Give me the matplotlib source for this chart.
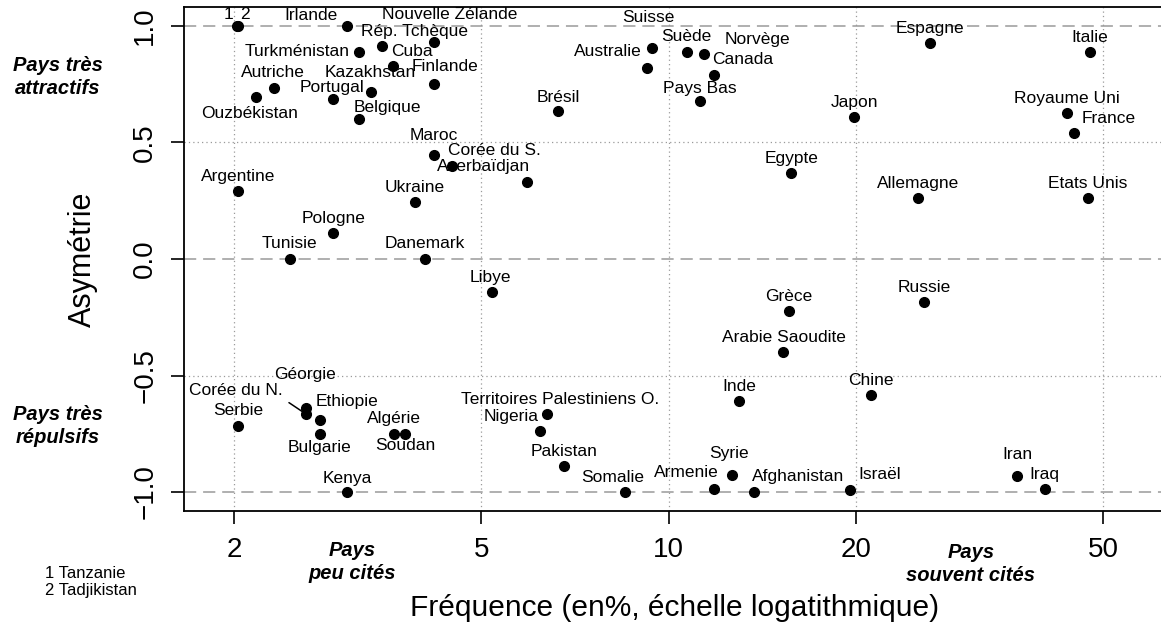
import matplotlib
matplotlib.use("Agg")
import matplotlib.pyplot as plt

plt.rcParams['font.family'] = ['Liberation Sans', 'DejaVu Sans']

# data
countries = ["Tanzanie", "Tadjikistan", "Irlande", "Nouvelle Zélande", "Rép. Tchèque",
             "Cuba", "Turkménistan", "Kazakhstan", "Finlande", "Autriche", "Ouzbékistan",
             "Portugal", "Belgique", "Maroc", "Corée du S.", "Argentine", "Ukraine",
             "Pologne", "Tunisie", "Danemark", "Suisse", "Australie", "Suède", "Norvège",
             "Canada", "Pays Bas", "Brésil", "Azerbaïdjan", "Egypte", "Espagne", "Italie",
             "Japon", "Royaume Uni", "France", "Allemagne", "Etats Unis", "Libye",
             "Géorgie", "Corée du N.", "Ethiopie", "Serbie", "Bulgarie", "Algérie",
             "Soudan", "Kenya", "Territoires Palestiniens O.", "Nigeria", "Grèce",
             "Arabie Saoudite", "Inde", "Pakistan", "Somalie", "Armenie", "Syrie",
             "Afghanistan", "Russie", "Chine", "Israël", "Iran", "Iraq"]
frequency = [2.02, 2.03, 3.04, 4.20, 3.46,
             3.60, 3.18, 3.32, 4.20, 2.32, 2.17,
             2.89, 3.18, 4.20, 4.48, 2.03, 3.91,
             2.89, 2.46, 4.06, 9.41, 9.24, 10.71, 11.41,
             11.84, 11.24, 6.64, 5.92, 15.75, 26.3, 47.7,
             19.9, 43.8, 44.9, 25.2, 47.3, 5.20,
             2.61, 2.61, 2.75, 2.03, 2.75, 3.62,
             3.77, 3.04, 6.38, 6.21, 15.6,
             15.3, 13.0, 6.79, 8.51, 11.84, 12.66,
             13.73, 25.8, 21.2, 19.6, 36.4, 40.3]
asymmetry = [1.0, 1.0, 1.0, 0.93, 0.915,
             0.83, 0.89, 0.715, 0.75, 0.735, 0.695,
             0.685, 0.60, 0.445, 0.40, 0.29, 0.245,
             0.11, 0.0, 0.0, 0.905, 0.82, 0.89, 0.88,
             0.79, 0.68, 0.635, 0.33, 0.37, 0.925, 0.89,
             0.61, 0.625, 0.54, 0.26, 0.26, -0.14,
             -0.64, -0.665, -0.69, -0.715, -0.75, -0.75,
             -0.75, -1.0, -0.665, -0.74, -0.225,
             -0.40, -0.61, -0.89, -1.0, -0.985, -0.925,
             -1.0, -0.185, -0.585, -0.99, -0.93, -0.985]
short_names = {"Tanzanie": "1", "Tadjikistan": "2"}
footnote = ["1 Tanzanie", "2 Tadjikistan"]

xticks = [2, 5, 10, 20, 50]
yticks = [-1.0, -0.5, 0.0, 0.5, 1.0]
ytick_labels = ["\u22121.0", "\u22120.5", "0.0", "0.5", "1.0"]

# label offsets from each point, in pixels (x right, y up)
label_dx = [-8, 7, -36, 15, 33,
            19, -62, -1, 11, -1, -6,
            -1, 28, 0, 43, 0, 0,
            0, 0, 0, -4, -39, -1, 53,
            29, 0, 0, -43, 0, 0, -1,
            0, 0, 35, 0, 0, -2,
            -1, -70, 27, 0, 0, 0,
            0, 0, 13, -29, 0,
            1, 0, 0, -12, -28, -3,
            44, 0, 0, 30, 0, 0]
label_dy = [11, 11, 10, 28, 14,
            14, 0, 20, 18, 15, -16,
            12, 12, 20, 15, 15, 14,
            15, 15, 15, 31, 16, 15, 14,
            15, 12, 14, 16, 14, 15, 14,
            14, 15, 15, 15, 15, 14,
            34, 23, 18, 15, -14, 15,
            -12, 14, 14, 15, 15,
            15, 15, 15, 15, 16, 21,
            16, 15, 15, 15, 21, 14]

W, H = 1161, 633
fig = plt.figure(figsize=(W / 100, H / 100), dpi=100)
ax = fig.add_axes([184 / W, 1 - 511 / H, 1.01 - 184 / W, (511 - 7) / H])

ax.set_xscale('log')
ax.set_xlim(1.662, 64.7)
ax.set_ylim(-1.0815, 1.0815)

grey = '#9a9a9a'
for yv in [-1, 0, 1]:
    ax.axhline(yv, color=grey, lw=1.1, ls=(0, (8, 4.5)), zorder=1)
for yv in [-0.5, 0.5]:
    ax.axhline(yv, color=grey, lw=0.9, ls=(0, (1, 2.5)), zorder=1)
for xv in xticks:
    ax.axvline(xv, color=grey, lw=0.9, ls=(0, (1, 2.5)), zorder=1)

ax.plot(frequency, asymmetry, 'o', color='black', markersize=7, zorder=3)

for name, fx, ay, dx, dy in zip(countries, frequency, asymmetry, label_dx, label_dy):
    txt = short_names.get(name, name)
    if name == "Corée du N.":
        ax.annotate(txt, xy=(fx, ay), xytext=(dx, dy), textcoords='offset pixels',
                    ha='center', va='center', fontsize=12.5,
                    arrowprops=dict(arrowstyle='-', color='black', lw=1.1,
                                    relpos=(1.0, 0.0), shrinkA=3, shrinkB=3))
    else:
        ax.annotate(txt, xy=(fx, ay), xytext=(dx, dy), textcoords='offset pixels',
                    ha='center', va='center', fontsize=12.5)

ax.minorticks_off()
ax.set_xticks(xticks)
ax.set_xticklabels([str(v) for v in xticks], fontsize=20)
ax.set_yticks(yticks)
ax.set_yticklabels(ytick_labels, fontsize=20, rotation=90, va='center')
ax.tick_params(axis='both', length=9.5, width=1.2, pad=9)

for side in ['left', 'bottom', 'top']:
    ax.spines[side].set_linewidth(1.3)
ax.spines['right'].set_visible(False)

fig.text(83 / W, 1 - 259 / H, "Asymétrie", rotation=90, fontsize=22,
         ha='center', va='center')
fig.text(675 / W, 1 - 608 / H,
         "Fréquence (en%, échelle logatithmique)", fontsize=21.5, ha='center', va='center')

bi = dict(fontsize=14.5, fontweight='bold', fontstyle='italic', ha='center',
          va='center', linespacing=1.25)
fig.text(58 / W, 1 - 77 / H, "Pays très\nattractifs", **bi)
fig.text(58 / W, 1 - 426 / H, "Pays très\nrépulsifs", **bi)
fig.text(352 / W, 1 - 562 / H, "Pays\npeu cités", **bi)
fig.text(971 / W, 1 - 564 / H, "Pays\nsouvent cités", **bi)

fig.text(45 / W, 1 - 582 / H, "\n".join(footnote), fontsize=12, ha='left',
         va='center', linespacing=1.2)

fig.savefig("out.png", dpi=100)
